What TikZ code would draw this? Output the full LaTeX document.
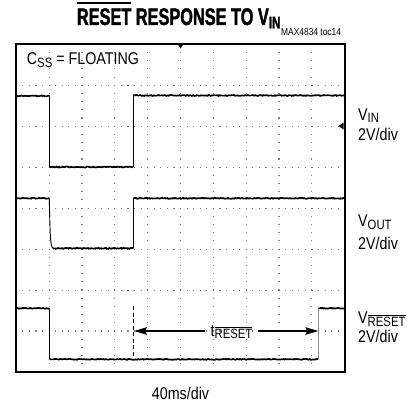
\documentclass[tikz,border=0pt]{standalone}
\usepackage{fontspec}
\setmainfont{Liberation Sans}[FakeStretch=0.84]
\newfontfamily\titlefont{Liberation Sans}[FakeStretch=0.68, FakeBold=1.5]
\usetikzlibrary{arrows.meta,decorations.pathmorphing}
\newcommand\olbar[3]{\vbox{\hrule height #2\kern #3\hbox{#1}}}
\newcommand\lsub[1]{\raisebox{-2.9pt}{\fontsize{13.5pt}{13.5pt}\selectfont #1}}
\newcommand\tsub[1]{\raisebox{-3.5pt}{\fontsize{17pt}{17pt}\selectfont\bfseries #1}}
\tikzset{
  lbl/.style={inner sep=0pt, font=\fontsize{17pt}{20pt}\selectfont},
  hgrid/.style={draw=black!50, line width=1.1pt, dash pattern=on 1.1pt off 5.47pt, dash phase=0.55pt},
  vgrid/.style={draw=black!50, line width=1.1pt, dash pattern=on 1.1pt off 7.09pt, dash phase=0.55pt},
  lvl/.style={draw=black, line width=1.7pt, decorate, decoration={random steps, segment length=1.2pt, amplitude=0.45pt}},
  edgeln/.style={draw=black, line width=0.9pt},
  greyedge/.style={draw=black!45, line width=1.1pt},
  dashln/.style={draw=black, line width=1.2pt, dash pattern=on 4pt off 2.5pt},
  tarrow/.style={draw=black, line width=1.1pt, -{Stealth[length=13pt, width=7.5pt, inset=2pt]}},
  frame/.style={draw=black, line width=2.2pt}
}
\pgfmathsetseed{7}
\begin{document}
\begin{tikzpicture}[x=1pt, y=-1pt]
\useasboundingbox (0,0) rectangle (411,404);
% grid
\foreach \k in {1,...,7} \draw[hgrid] (16.3,{44.3+40.96*\k}) -- (344.7,{44.3+40.96*\k});
\foreach \k in {1,...,9} \draw[vgrid] ({16.3+32.84*\k},44.3) -- ({16.3+32.84*\k},372);
% frame
\draw[frame] (16.3,44.3) rectangle (344.7,372);
% markers
\fill (178.3,45.2) -- (182.7,45.2) -- (180.5,48.5) -- cycle;
\fill (343.6,122.5) -- (343.6,129.5) -- (338.6,126) -- cycle;
% VIN trace
\draw[lvl] (16.3,96) -- (49.3,96);
\draw[edgeln] (49.3,96) -- (49.3,167);
\draw[lvl] (49.3,167) -- (133,167);
\draw[edgeln] (133,167) -- (133,95.5);
\draw[lvl] (133,95.5) -- (344.7,95.5);
% VOUT trace
\draw[lvl] (16.3,198.3) -- (49.3,198.3);
\draw[edgeln] (49.3,198.3) .. controls (50,236) and (50.5,247) .. (53,248.3);
\draw[lvl] (53,248.3) -- (133.5,248.3);
\draw[edgeln] (133.5,248.3) -- (133.5,198.3);
\draw[lvl] (133.5,198.3) -- (344.7,198.3);
% VRESET trace
\draw[lvl] (16.3,308.3) -- (49.3,308.3);
\draw[edgeln] (49.3,308.3) -- (49.3,359.3);
\draw[lvl] (49.3,359.3) -- (318.3,359.3);
\draw[greyedge] (318.3,359.3) -- (318.3,308.3);
\draw[lvl] (318.3,308.3) -- (344.7,308.3);
% tRESET marker
\coordinate (dtop) at (133.5,306);
\coordinate (dbot) at (133.5,357);
\draw[dashln] (dtop) -- (dbot);
\coordinate (aL) at (134,331);
\coordinate (aR) at (318.3,331);
\node[lbl, anchor=base, minimum width=53pt] (tlab) at (231.5,336) {t\lsub{\olbar{RESET}{0.8pt}{1.3pt}}};
\draw[tarrow] (tlab.west |- aL) -- (aL);
\draw[tarrow] (tlab.east |- aR) -- (aR);
% texts
\node[inner sep=0pt, anchor=base west, font=\titlefont\bfseries\fontsize{24pt}{25pt}\selectfont] (title) at (76.7,25) {\olbar{RESET}{2.3pt}{4pt} RESPONSE TO V\tsub{IN}};
\node[inner sep=0pt, anchor=base west, font=\fontsize{10pt}{11pt}\selectfont] (toc) at (281,36) {MAX4834 toc14};
\node[lbl, anchor=base west] (css) at (26.7,64.7) {C\lsub{SS} = FLOATING};
\node[lbl, anchor=base west] (vin) at (358,120) {V\lsub{IN}};
\node[lbl, anchor=base west] (vindiv) at (358,140.5) {2V/div};
\node[lbl, anchor=base west] (vout) at (358,226.5) {V\lsub{OUT}};
\node[lbl, anchor=base west] (voutdiv) at (358,249.5) {2V/div};
\node[lbl, anchor=base west] (vrst) at (358,323.3) {V\lsub{\olbar{RESET}{0.8pt}{1.3pt}}};
\node[lbl, anchor=base west] (vrstdiv) at (358,342) {2V/div};
\node[lbl, anchor=base] (tdiv) at (180.5,399) {40ms/div};
\end{tikzpicture}
\end{document}
